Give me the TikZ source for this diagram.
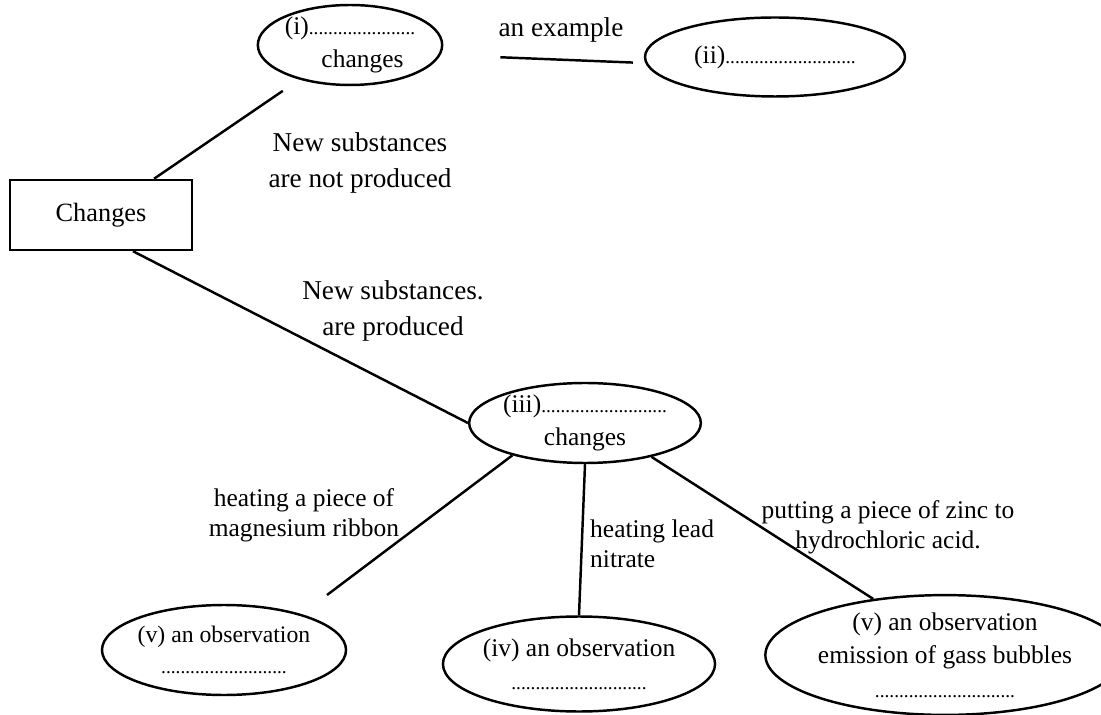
\documentclass[tikz,border=0pt]{standalone}
\usepackage{fontspec}
\setmainfont{Liberation Serif}
\usetikzlibrary{shapes.geometric, calc}
\newcommand{\dotrow}[1]{{\fontsize{11}{13}\selectfont #1}}

\begin{document}
\begin{tikzpicture}[x=0.02cm, y=-0.02cm]
    \tikzstyle{oval} = [draw, ellipse, line width=1.4pt, inner sep=0pt, align=center, font=\fontsize{14.5}{19}\selectfont]
    \tikzstyle{block} = [draw, rectangle, line width=1.4pt, minimum width=3.64cm, minimum height=1.4cm, font=\fontsize{15}{18}\selectfont]
    \tikzstyle{tag} = [align=center, font=\fontsize{15.5}{20}\selectfont]
    \tikzstyle{smalltag} = [align=center, font=\fontsize{14.5}{17}\selectfont]
    \tikzstyle{line} = [draw, line width=1.4pt]
    \useasboundingbox (0,0) rectangle (1101,715);

    \node [block] (changes) at (101,215) {Changes};
    \node [oval, minimum width=3.2cm, minimum height=1.52cm] (phys) at (350,45) {(i)\dotrow{......................}\\ \hspace*{0.5cm}changes};
    \node [oval, minimum width=5.2cm, minimum height=1.58cm] (physex) at (775,57) {(ii)\dotrow{...........................}};
    \node [oval, minimum width=3.88cm, minimum height=1.54cm] (chem) at (585,423) {(iii)\dotrow{..........................}\\changes};

    \node [oval, minimum width=3.6cm, minimum height=1.8cm, font=\fontsize{13.5}{18}\selectfont] (mgobs) at (224,650) {(v) an observation\\\dotrow{..........................}};
    \node [oval, minimum width=4.28cm, minimum height=1.9cm] (pbobs) at (579,664) {(iv) an observation\\\dotrow{............................}};
    \node [oval, minimum width=6.1cm, minimum height=2.3cm] (znobs) at (945,655) {(v) an observation\\emission of gass bubbles\\\dotrow{.............................}};

    \node [tag] (example) at (561,30) {an example};
    \node [tag] (notnew) at (360,163) {New substances\\are not produced};
    \node [tag] (new) at (393,311) {New substances.\\are produced};
    \node [smalltag] (mg) at (304,515) {heating a piece of\\magnesium ribbon};
    \node [smalltag, align=left, anchor=west] (pb) at (584,544) {heating lead\\nitrate};
    \node [smalltag] (zn) at (888,527) {putting a piece of zinc to\\hydrochloric acid.};

    \coordinate (mgend) at (327,595);

    \path [line, shorten >=0.4cm] (changes) -- (phys);
    \path [line, shorten <=1.14cm, shorten >=0.22cm] ($(phys.east)+(0,10)$) -- ($(physex.west)+(0,6)$);
    \path [line] ($(changes.south)+(32,0)$) -- (chem.west);
    \path [line] (chem.204) -- (mgend);
    \path [line] (chem.south) -- (pbobs.north);
    \path [line] (chem.333) -- (znobs.142);
\end{tikzpicture}
\end{document}
